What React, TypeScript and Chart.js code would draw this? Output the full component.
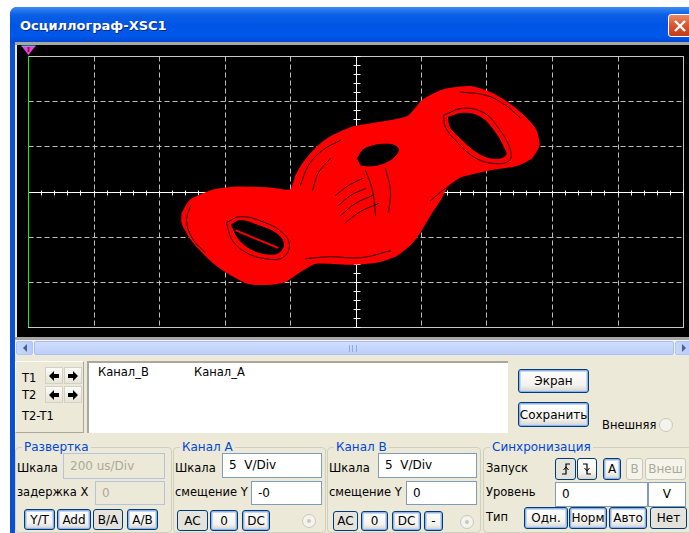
import React, { useEffect, useRef } from "react";
import { Chart, registerables } from "chart.js";
Chart.register(...registerables);

// Axis ticks (volts, 5 V/Div on both channels)
const xTicks = [-25, -20, -15, -10, -5, 0, 5, 10, 15, 20, 25];
const yTicks = [-15, -10, -5, 0, 5, 10, 15];

// Envelope of the red trace (Channel B on X, Channel A on Y), volts
const traceEnvelope = [[-13.21,-2.44],[-12.6,-1.0],[-10.84,0.11],[-9.01,0.44],[-6.49,0.33],[-4.96,0.11],[-4.5,1.78],[-3.97,3.11],[-2.9,4.89],[-1.91,6.0],[-0.15,7.11],[2.14,7.67],[3.97,8.22],[5.19,10.11],[6.72,11.22],[8.78,11.56],[10.31,10.89],[11.6,9.78],[12.75,8.44],[13.74,6.78],[13.97,5.11],[13.36,3.67],[12.21,2.89],[10.69,2.56],[9.16,2.11],[8.02,1.67],[7.02,0.67],[6.49,-0.78],[5.73,-2.44],[4.96,-4.33],[4.2,-5.78],[3.05,-7.11],[1.53,-7.78],[-0.38,-8.0],[-1.91,-7.89],[-3.05,-7.89],[-4.2,-8.78],[-5.34,-9.89],[-6.49,-10.22],[-8.24,-10.11],[-10.31,-8.44],[-11.6,-6.78],[-12.6,-5.11],[-13.21,-3.44],[-13.21,-2.44]];
// Empty eyes of the attractor
const leftEye = [[-9.47,-3.67],[-8.78,-3.22],[-7.4,-3.78],[-6.03,-4.67],[-5.5,-5.78],[-5.88,-6.78],[-6.87,-6.89],[-8.02,-6.33],[-8.93,-5.22],[-9.47,-3.67]];
const rightEye = [[7.1,8.22],[8.24,8.67],[9.54,8.22],[10.53,6.78],[11.3,4.89],[11.45,4.0],[10.53,3.67],[9.31,4.33],[8.02,5.89],[7.25,7.11],[7.1,8.22]];
const middleEye = [[0.15,3.67],[0.76,4.78],[2.67,5.22],[3.28,4.56],[2.29,3.22],[0.53,2.89],[0.15,3.67]];
// Thin dark gaps between trace strands
const gapLeftRing = [[-9.85,-3.44],[-8.78,-2.78],[-7.1,-3.33],[-5.57,-4.56],[-5.04,-6.0],[-5.57,-7.33],[-6.87,-7.44],[-8.32,-6.78],[-9.39,-5.44],[-9.85,-3.44]];
const gapRightRing = [[6.72,8.44],[8.24,9.22],[9.85,8.67],[10.92,7.0],[11.76,4.89],[11.76,3.44],[10.53,3.11],[9.08,3.78],[7.71,5.56],[6.87,7.11],[6.72,8.44]];
const gapMid1 = [[-1.3,-1.56],[-0.38,-0.44],[0.76,0.33]];
const gapMid2 = [[-1.15,-2.67],[0,-1.33],[1.3,-0.44]];
const gapMid3 = [[-0.76,-3.44],[0.38,-2.22],[1.76,-1.33]];
const gapMid4 = [[-1.53,-0.44],[-0.53,0.67],[0.53,1.44]];
const gapMid5 = [[0.76,2.33],[1.3,0.11],[1.53,-2.67]];
const gapMid6 = [[2.29,2.56],[2.67,0.11],[2.52,-2.33]];
const gapUpper1 = [[-4.2,0.67],[-3.59,2.89],[-2.52,4.56],[-1.15,5.67]];
const gapUpper2 = [[-3.28,0.11],[-2.82,2.11],[-1.91,3.67]];
const gapLower = [[-3.82,-7.44],[-1.91,-7.22],[0.38,-7.33],[2.67,-6.56]];
const gapRightBand = [[5.73,-1.0],[6.87,0.33],[8.02,1.22],[9.54,1.78]];
const gapLeftEdge = [[-12.6,-1.56],[-12.9,-3.22],[-12.44,-5.22],[-11.45,-6.78]];
const gapRightTop = [[8.02,11.0],[9.92,10.67],[11.45,9.56],[12.6,8.11]];
// Lone strand crossing the left eye
const strandInLeftEye = [[-9.08,-4.33],[-7.63,-5.22],[-5.95,-6.22]];

type Layer = { pts: number[][]; kind: "fill" | "hole" | "gap" | "strand" };
const layers: Layer[] = [
  { pts: traceEnvelope, kind: "fill" },
  { pts: leftEye, kind: "hole" },
  { pts: rightEye, kind: "hole" },
  { pts: middleEye, kind: "hole" },
  { pts: gapLeftRing, kind: "gap" },
  { pts: gapRightRing, kind: "gap" },
  { pts: gapMid1, kind: "gap" },
  { pts: gapMid2, kind: "gap" },
  { pts: gapMid3, kind: "gap" },
  { pts: gapMid4, kind: "gap" },
  { pts: gapMid5, kind: "gap" },
  { pts: gapMid6, kind: "gap" },
  { pts: gapUpper1, kind: "gap" },
  { pts: gapUpper2, kind: "gap" },
  { pts: gapLower, kind: "gap" },
  { pts: gapRightBand, kind: "gap" },
  { pts: gapLeftEdge, kind: "gap" },
  { pts: gapRightTop, kind: "gap" },
  { pts: strandInLeftEye, kind: "strand" },
];

const scopePlugin = {
  id: "scope",
  beforeDatasetsDraw(chart: any) {
    const { ctx, chartArea: a, scales } = chart;
    const sx = scales.x, sy = scales.y;
    const L = Math.round(a.left) + 0.5, R = Math.round(a.right) + 0.5;
    const T = Math.round(a.top) + 0.5, B = Math.round(a.bottom) + 0.5;
    const line = (x1: number, y1: number, x2: number, y2: number) => {
      ctx.beginPath(); ctx.moveTo(x1, y1); ctx.lineTo(x2, y2); ctx.stroke();
    };
    ctx.save();
    ctx.lineWidth = 1;
    ctx.strokeStyle = "#bcbcbc";
    ctx.setLineDash([5, 3]);
    xTicks.forEach((v, i) => {
      if (v === 0 || i === 0 || i === xTicks.length - 1) return;
      const px = Math.round(sx.getPixelForValue(v)) + 0.5;
      line(px, T, px, B);
    });
    yTicks.forEach((v, i) => {
      if (v === 0 || i === 0 || i === yTicks.length - 1) return;
      const py = Math.round(sy.getPixelForValue(v)) + 0.5;
      line(L, py, R, py);
    });
    ctx.setLineDash([]);
    ctx.strokeStyle = "#c8c8c8";
    ctx.strokeRect(L, T, R - L, B - T);
    ctx.strokeStyle = "#ffffff";
    const x0 = Math.round(sx.getPixelForValue(0)) + 0.5;
    const y0 = Math.round(sy.getPixelForValue(0)) + 0.5;
    line(L, y0, R, y0);
    line(x0, T, x0, B);
    for (let v = xTicks[0]; v <= xTicks[xTicks.length - 1]; v += 1) {
      const px = Math.round(sx.getPixelForValue(v)) + 0.5;
      line(px, y0 - 2, px, y0 + 3);
    }
    for (let v = yTicks[0]; v <= yTicks[yTicks.length - 1]; v += 1) {
      const py = Math.round(sy.getPixelForValue(v)) + 0.5;
      line(x0 - 3, py, x0 + 4, py);
    }
    ctx.restore();
  },
  afterDraw(chart: any) {
    const { ctx, chartArea: a } = chart;
    const cx = Math.round(a.left) + 0.5;
    ctx.save();
    ctx.strokeStyle = "#00ff00";
    ctx.lineWidth = 1;
    ctx.beginPath(); ctx.moveTo(cx, a.top); ctx.lineTo(cx, a.bottom); ctx.stroke();
    ctx.beginPath();
    ctx.moveTo(cx - 7, a.top - 10); ctx.lineTo(cx + 7, a.top - 10); ctx.lineTo(cx, a.top - 1); ctx.closePath();
    ctx.fillStyle = "#ff33ff"; ctx.fill();
    ctx.strokeStyle = "#33dddd"; ctx.beginPath(); ctx.moveTo(cx - 7, a.top - 10); ctx.lineTo(cx + 7, a.top - 10); ctx.stroke();
    ctx.fillStyle = "#6a4000"; ctx.fillRect(cx - 1, a.top - 9, 2, 5);
    ctx.restore();
  },
};

function datasetFor(l: Layer, i: number) {
  const base: any = {
    data: l.pts.map(([x, y]) => ({ x, y })),
    showLine: true,
    pointRadius: 0,
    borderCapStyle: "round",
    borderJoinStyle: "round",
    order: layers.length - i, // first layer painted first (underneath)
  };
  if (l.kind === "fill") return { ...base, borderColor: "#ff0000", backgroundColor: "#ff0000", borderWidth: 2, tension: 0.2, fill: "shape" };
  if (l.kind === "hole") return { ...base, borderColor: "#000000", backgroundColor: "#000000", borderWidth: 1, tension: 0.4, fill: "shape" };
  if (l.kind === "gap") return { ...base, borderColor: "#200000", borderWidth: 1, tension: 0.4, fill: false };
  return { ...base, borderColor: "#ff0000", borderWidth: 2, tension: 0.4, fill: false };
}

function ScopeChart() {
  const ref = useRef<HTMLCanvasElement>(null);
  useEffect(() => {
    if (!ref.current) return;
    const chart = new Chart(ref.current, {
      type: "scatter",
      data: { datasets: layers.map(datasetFor) },
      options: {
        animation: false,
        responsive: false,
        devicePixelRatio: 1,
        layout: { padding: { left: 11, top: 11, right: 6, bottom: 10 } },
        plugins: { legend: { display: false }, tooltip: { enabled: false } },
        scales: {
          x: { type: "linear", min: xTicks[0], max: xTicks[xTicks.length - 1], display: false },
          y: { type: "linear", min: yTicks[0], max: yTicks[yTicks.length - 1], display: false },
        },
      } as any,
      plugins: [scopePlugin],
    });
    return () => chart.destroy();
  }, []);
  return <canvas ref={ref} width={672} height={292} style={{ display: "block" }} />;
}

const abs = (x: number, y: number, w?: number, h?: number, extra: any = {}) => ({
  position: "absolute" as const, left: x, top: y, width: w, height: h, boxSizing: "border-box" as const, ...extra,
});

function Txt({ x, cy, children, color = "#000", bold = false, size = 11.5 }: any) {
  return (
    <div style={{ ...abs(x, cy - 8, undefined, 16), lineHeight: "16px", fontSize: size, color, fontWeight: bold ? "bold" : "normal", whiteSpace: "nowrap" }}>
      {children}
    </div>
  );
}

function Btn({ x, y, w, h, label, disabled = false, pressed = false, blue = false }: any) {
  const style: any = {
    ...abs(x, y, w, h),
    border: disabled ? "1px solid #c9c7ba" : "1px solid #003c74",
    borderRadius: 3,
    background: pressed ? "linear-gradient(#e5e4de,#e3e2da)" : disabled ? "#f5f4ea" : "linear-gradient(#ffffff,#f3f2ed 70%,#d8d3c8)",
    boxShadow: blue ? "inset 0 0 0 1px #8fb2e8, inset 0 0 0 2px #c5d7f5" : "none",
    color: disabled ? "#aca899" : "#000",
    fontSize: 12,
    display: "flex", alignItems: "center", justifyContent: "center",
    whiteSpace: "nowrap",
  };
  return <div style={style}>{label}</div>;
}

function Field({ x, y, w, h, text, disabled = false }: any) {
  return (
    <div style={{ ...abs(x, y, w, h), background: disabled ? "#ece9d8" : "#fff", border: disabled ? "1px solid #b5c4d8" : "1px solid #7f9db9", color: disabled ? "#aca899" : "#000", fontSize: 12, lineHeight: `${h - 2}px`, paddingLeft: 6, whiteSpace: "pre" }}>
      {text}
    </div>
  );
}

function Radio({ x, y, dot = false }: any) {
  return (
    <div style={{ ...abs(x, y, 14, 14), borderRadius: 7, border: "1px solid #cac8bb", background: "#f4f3ee" }}>
      {dot ? <div style={{ ...abs(4, 4, 4, 4), borderRadius: 2, background: "#cac8bb" }} /> : null}
    </div>
  );
}

function Group({ x, w, title }: any) {
  return (
    <>
      <div style={{ ...abs(x, 447, w, 86), border: "1px solid #d0d0bf", borderRadius: 4 }} />
      <div style={{ ...abs(x + 7, 439, undefined, 16), background: "#ece9d8", color: "#0046d5", fontSize: 12, lineHeight: "16px", padding: "0 2px", whiteSpace: "nowrap" }}>{title}</div>
    </>
  );
}

function Arrow({ x, y, dir }: any) {
  const pts = dir === "l" ? "1,6 6,1 6,4 11,4 11,8 6,8 6,11" : "11,6 6,1 6,4 1,4 1,8 6,8 6,11";
  return (
    <div style={{ ...abs(x, y, 18, 17), background: "linear-gradient(#fbfbf8,#e6e3d6)", border: "1px solid #d4d0c4", display: "flex", alignItems: "center", justifyContent: "center" }}>
      <svg width="12" height="12"><polygon points={pts} fill="#000" /></svg>
    </div>
  );
}

function Edge({ rising }: any) {
  return (
    <svg width="12" height="14">
      <path d={rising ? "M2 12 H6 V2 H10" : "M2 2 H6 V12 H10"} stroke="#000" strokeWidth="1.2" fill="none" />
      <path d={rising ? "M3.5 8 L6 5 L8.5 8" : "M3.5 6 L6 9 L8.5 6"} stroke="#000" strokeWidth="1" fill="none" />
    </svg>
  );
}

export default function App() {
  return (
    <div style={{ position: "fixed", left: 0, top: 0, width: 689, height: 533, overflow: "hidden", background: "#fff", fontFamily: '"DejaVu Sans", sans-serif' }}>
      <div style={{ ...abs(10, 7, 700, 540), background: "#0a4fd6", borderRadius: "7px 7px 0 0" }} />
      <div style={{ ...abs(10, 7, 700, 36), borderRadius: "7px 7px 0 0", background: "linear-gradient(180deg,#3b8cf5 0%,#2a7af0 8%,#0a5fe4 22%,#0055e6 50%,#0058ea 80%,#0047d2 100%)" }} />
      <div style={{ ...abs(20, 16, undefined, 20), color: "#fff", fontWeight: "bold", fontSize: 13, lineHeight: "20px", textShadow: "1px 1px 0 #0a2a7a", whiteSpace: "nowrap" }}>Осциллограф-XSC1</div>
      <div style={{ ...abs(668, 14, 24, 23), borderRadius: 3, border: "1px solid #fff", background: "linear-gradient(#e98a6b,#d9552f 50%,#c23d18)", display: "flex", alignItems: "center", justifyContent: "center" }}>
        <svg width="14" height="14"><path d="M2 2 L12 12 M12 2 L2 12" stroke="#fff" strokeWidth="2.4" /></svg>
      </div>
      <div style={{ ...abs(15, 42, 690, 500), background: "#ece9d8" }} />
      <div style={{ ...abs(15, 42, 690, 3), background: "#a9a9a4" }} />
      <div style={{ ...abs(17, 45, 672, 292), background: "#000" }}>
        <ScopeChart />
      </div>
      <div style={{ ...abs(15, 337, 690, 3), background: "#a7a6a0" }} />
      <div style={{ ...abs(15, 340, 690, 15), background: "#f3f2ec" }} />
      <div style={{ ...abs(16, 341, 17, 14), background: "linear-gradient(90deg,#c8d8fd,#b6cbf8)", border: "1px solid #b0c6f4", borderRadius: 2, display: "flex", alignItems: "center", justifyContent: "center" }}>
        <svg width="6" height="8"><polygon points="5,0 1,4 5,8" fill="#4d6185" /></svg>
      </div>
      <div style={{ ...abs(34, 341, 640, 14), background: "linear-gradient(#d0ddfd,#bccffa)", border: "1px solid #a8bff2", borderRadius: 2 }}>
        <div style={{ ...abs(314, 3, 8, 7), borderLeft: "1px solid #8fa9e8", borderRight: "1px solid #8fa9e8" }} />
        <div style={{ ...abs(317, 3, 1, 7), background: "#8fa9e8" }} />
      </div>
      <div style={{ ...abs(675, 341, 17, 14), background: "linear-gradient(90deg,#c8d8fd,#b6cbf8)", border: "1px solid #b0c6f4", borderRadius: 2, display: "flex", alignItems: "center", justifyContent: "center" }}>
        <svg width="6" height="8"><polygon points="1,0 5,4 1,8" fill="#4d6185" /></svg>
      </div>
      <div style={{ ...abs(15, 361, 69, 72), borderTop: "1px solid #fff", borderLeft: "1px solid #fff", borderRight: "1px solid #aca899", borderBottom: "1px solid #aca899" }} />
      <Txt x={22} cy={378}>T1</Txt>
      <Txt x={22} cy={395}>T2</Txt>
      <Txt x={22} cy={416}>T2-T1</Txt>
      <Arrow x={45} y={367} dir="l" />
      <Arrow x={64} y={367} dir="r" />
      <Arrow x={45} y={386} dir="l" />
      <Arrow x={64} y={386} dir="r" />
      <div style={{ ...abs(87, 361, 421, 72), background: "#fff", borderTop: "2px solid #aca899", borderLeft: "2px solid #aca899" }} />
      <Txt x={98} cy={372}>Канал_В</Txt>
      <Txt x={194} cy={372}>Канал_А</Txt>
      <Btn x={518} y={369} w={71} h={24} label="Экран" blue />
      <Btn x={518} y={402} w={71} h={25} label="Сохранить" blue />
      <Txt x={602} cy={425}>Внешняя</Txt>
      <Radio x={659} y={418} />
      <Group x={15} w={157} title="Развертка" />
      <Txt x={17} cy={468}>Шкала</Txt>
      <Field x={63} y={453} w={102} h={26} text="200 us/Div" disabled />
      <Txt x={17} cy={492}>задержка X</Txt>
      <Field x={95} y={481} w={70} h={24} text="0" disabled />
      <Btn x={24} y={509} w={31} h={21} label="Y/T" blue />
      <Btn x={57} y={509} w={34} h={21} label="Add" blue />
      <Btn x={93} y={509} w={30} h={21} label="B/A" pressed />
      <Btn x={127} y={509} w={31} h={21} label="A/B" blue />
      <Group x={173} w={153} title="Канал А" />
      <Txt x={175} cy={468}>Шкала</Txt>
      <Field x={222} y={453} w={100} h={25} text="5  V/Div" />
      <Txt x={175} cy={492}>смещение Y</Txt>
      <Field x={251} y={481} w={71} h={24} text="-0" />
      <Btn x={177} y={510} w={31} h={21} label="AC" pressed />
      <Btn x={210} y={510} w={28} h={21} label="0" blue />
      <Btn x={242} y={510} w={28} h={21} label="DC" blue />
      <Radio x={302} y={514} dot />
      <Group x={327} w={154} title="Канал В" />
      <Txt x={329} cy={468}>Шкала</Txt>
      <Field x={378} y={453} w={99} h={25} text="5  V/Div" />
      <Txt x={329} cy={492}>смещение Y</Txt>
      <Field x={406} y={481} w={71} h={24} text="0" />
      <Btn x={333} y={511} w={25} h={20} label="AC" pressed />
      <Btn x={361} y={511} w={27} h={20} label="0" blue />
      <Btn x={392} y={511} w={29} h={20} label="DC" blue />
      <Btn x={424} y={511} w={19} h={20} label="-" blue />
      <Radio x={460} y={515} dot />
      <Group x={483} w={220} title="Синхронизация" />
      <Txt x={486} cy={468}>Запуск</Txt>
      <Btn x={555} y={458} w={21} h={22} label={<Edge rising />} pressed />
      <Btn x={577} y={458} w={20} h={22} label={<Edge rising={false} />} />
      <Btn x={603} y={458} w={18} h={22} label="A" blue />
      <Btn x={626} y={458} w={17} h={22} label="B" disabled />
      <Btn x={645} y={458} w={41} h={22} label="Внеш" disabled />
      <Txt x={486} cy={492}>Уровень</Txt>
      <Field x={555} y={482} w={93} h={25} text="0" />
      <Field x={648} y={482} w={38} h={25} text="  V" />
      <Txt x={486} cy={517}>Тип</Txt>
      <Btn x={524} y={507} w={44} h={22} label="Одн." blue />
      <Btn x={569} y={507} w={38} h={22} label="Норм" blue />
      <Btn x={609} y={507} w={38} h={22} label="Авто" blue />
      <Btn x={650} y={507} w={37} h={22} label="Нет" pressed />
    </div>
  );
}
